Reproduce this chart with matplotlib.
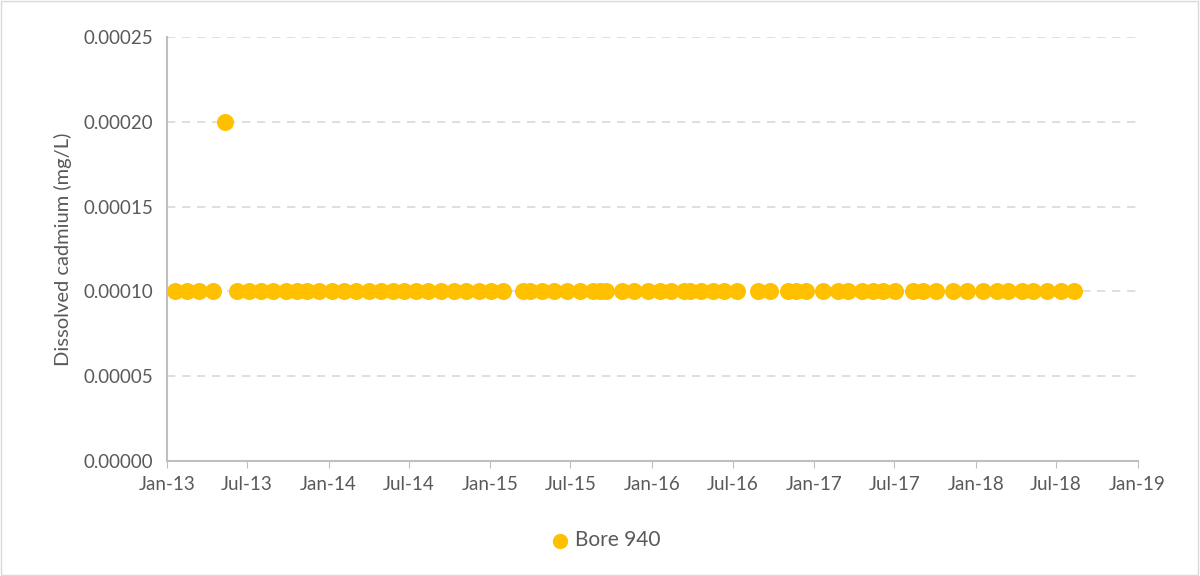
import numpy as np
import pandas as pd
import matplotlib.pyplot as plt
import matplotlib.dates as mdates
from matplotlib.patches import Rectangle

plt.rcParams['font.family'] = ['Lato', 'DejaVu Sans']

# sample dates and dissolved cadmium values
dates = [
    '2013-01-19', '2013-02-15', '2013-03-14', '2013-04-15', '2013-05-12',
    '2013-06-08', '2013-07-05', '2013-08-01', '2013-08-28', '2013-09-26',
    '2013-10-21', '2013-11-13', '2013-12-10', '2014-01-08', '2014-02-04',
    '2014-03-03', '2014-04-02', '2014-04-29', '2014-05-26', '2014-06-20',
    '2014-07-17', '2014-08-13', '2014-09-11', '2014-10-11', '2014-11-07',
    '2014-12-06', '2015-01-02', '2015-01-29',
    '2015-03-17', '2015-03-31', '2015-04-27', '2015-05-26', '2015-06-23',
    '2015-07-22', '2015-08-22', '2015-09-05', '2015-09-19', '2015-10-25',
    '2015-11-21', '2015-12-22', '2016-01-18', '2016-02-14', '2016-03-13',
    '2016-03-26', '2016-04-20', '2016-05-17', '2016-06-11', '2016-07-12',
    '2016-08-27', '2016-09-23', '2016-11-02', '2016-11-20', '2016-12-13',
    '2017-01-22', '2017-02-23', '2017-03-18', '2017-04-20', '2017-05-13',
    '2017-06-05', '2017-07-02', '2017-08-11', '2017-09-03', '2017-10-04',
    '2017-11-10', '2017-12-13', '2018-01-16', '2018-02-17', '2018-03-14',
    '2018-04-14', '2018-05-09', '2018-06-10', '2018-07-13', '2018-08-10',
]
cadmium = [0.0001] * len(dates)
cadmium[4] = 0.0002

x = pd.to_datetime(dates)

fig = plt.figure(figsize=(12, 5.76), dpi=100)
ax = fig.add_axes([0.139, 0.1997, 0.809, 0.7361])

grey_txt = '#595959'
ax.scatter(x, cadmium, s=150, color='#FFC000', zorder=3, label='Bore 940', linewidths=0)

ax.set_ylim(0, 0.00025)
ax.set_yticks(np.arange(0, 0.000251, 0.00005))
ax.yaxis.set_major_formatter(plt.FuncFormatter(lambda v, p: '%.5f' % v))
ax.set_xlim(pd.Timestamp('2013-01-01'), pd.Timestamp('2019-01-01'))
ax.xaxis.set_major_locator(mdates.MonthLocator(bymonth=[1, 7]))
ax.xaxis.set_major_formatter(mdates.DateFormatter('%b-%y'))

ax.grid(axis='y', color='#d9d9d9', linestyle=(0, (5, 4)), linewidth=1.2)
ax.set_axisbelow(True)
for s in ['top', 'right']:
    ax.spines[s].set_visible(False)
for s in ['left', 'bottom']:
    ax.spines[s].set_color('#bfbfbf')
    ax.spines[s].set_linewidth(1.5)
ax.tick_params(axis='y', length=0, pad=10, labelsize=13.5, labelcolor=grey_txt)
ax.tick_params(axis='x', length=5, color='#bfbfbf', pad=6, labelsize=13.5, labelcolor=grey_txt)
ax.set_ylabel('Dissolved cadmium (mg/L)', fontsize=14.5, color=grey_txt, labelpad=8)

fig.legend(loc='center', bbox_to_anchor=(0.5, 0.062), frameon=False, fontsize=15,
           labelcolor=grey_txt, handletextpad=-0.25, markerscale=0.9)

fig.patches.append(Rectangle((0.001, 0.002), 0.997, 0.996, transform=fig.transFigure,
                             fill=False, edgecolor='#d9d9d9', linewidth=1))

plt.savefig('out.png')
